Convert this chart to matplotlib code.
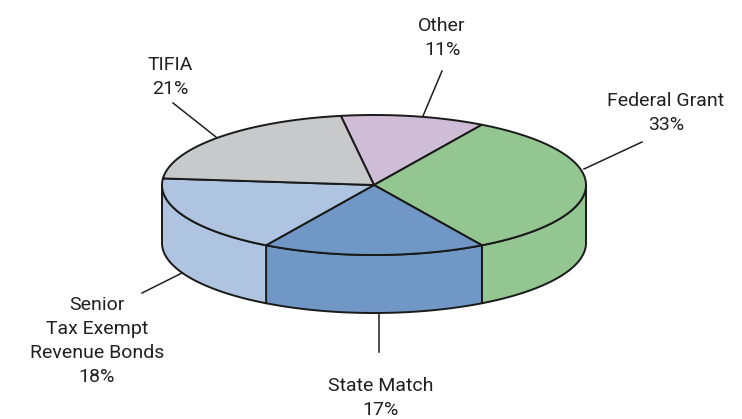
import numpy as np
import matplotlib.pyplot as plt
from matplotlib.patches import Polygon

plt.rcParams['font.family'] = ['Roboto', 'DejaVu Sans']

# slices, clockwise from the top
labels = ["Other", "Federal Grant", "State Match", "Senior\nTax Exempt\nRevenue Bonds", "TIFIA"]
shares = [11, 33, 17, 18, 21]
colors = ["#cfbcd6", "#93c691", "#7097c5", "#afc4e0", "#c8c9ca"]

# label block centre and leader lines, in pixel coords
label_pos = [(442, 38), (666, 113), (381, 398), (97, 341), (170, 77)]
leaders = [((442, 71), (423, 116)), ((642, 142), (584, 169)), ((379, 352), (379, 314)),
           ((142, 293), (182, 273)), ((173, 103), (216, 137))]

start_angle = 99.0
cx, cy, rx, ry, depth = 374, 185, 212, 70, 58


def pt(t, dy=0):
    r = np.radians(t)
    return cx + rx * np.cos(r), cy - ry * np.sin(r) + dy


fig = plt.figure(figsize=(7.42, 4.19), dpi=100)
ax = fig.add_axes([0, 0, 1, 1])
ax.set_xlim(0, 742)
ax.set_ylim(419, 0)
ax.axis("off")

bounds = start_angle - np.concatenate([[0], np.cumsum(shares)]) * 3.6

# sides first (front half only: angles between -180 and 0)
for i in range(len(shares)):
    a0, a1 = bounds[i], bounds[i + 1]
    lo, hi = max(a1, -180), min(a0, 0)
    if hi <= lo:
        continue
    ts = np.linspace(hi, lo, 60)
    top = [pt(t) for t in ts]
    bot = [pt(t, depth) for t in ts[::-1]]
    ax.add_patch(Polygon(top + bot, closed=True, facecolor=colors[i],
                         edgecolor="#1a1a1a", linewidth=1.4, joinstyle="round"))

# top face
for i in range(len(shares)):
    ts = np.linspace(bounds[i], bounds[i + 1], 80)
    poly = [(cx, cy)] + [pt(t) for t in ts]
    ax.add_patch(Polygon(poly, closed=True, facecolor=colors[i],
                         edgecolor="#1a1a1a", linewidth=1.4, joinstyle="round"))

for i, lab in enumerate(labels):
    x, y = label_pos[i]
    ax.text(x, y, f"{lab}\n{shares[i]}%", ha="center", va="center",
            fontsize=14, color="#231f20", linespacing=1.45)
    (x0, y0), (x1, y1) = leaders[i]
    ax.plot([x0, x1], [y0, y1], color="#231f20", linewidth=1.1)

fig.savefig("out.png", dpi=100)
